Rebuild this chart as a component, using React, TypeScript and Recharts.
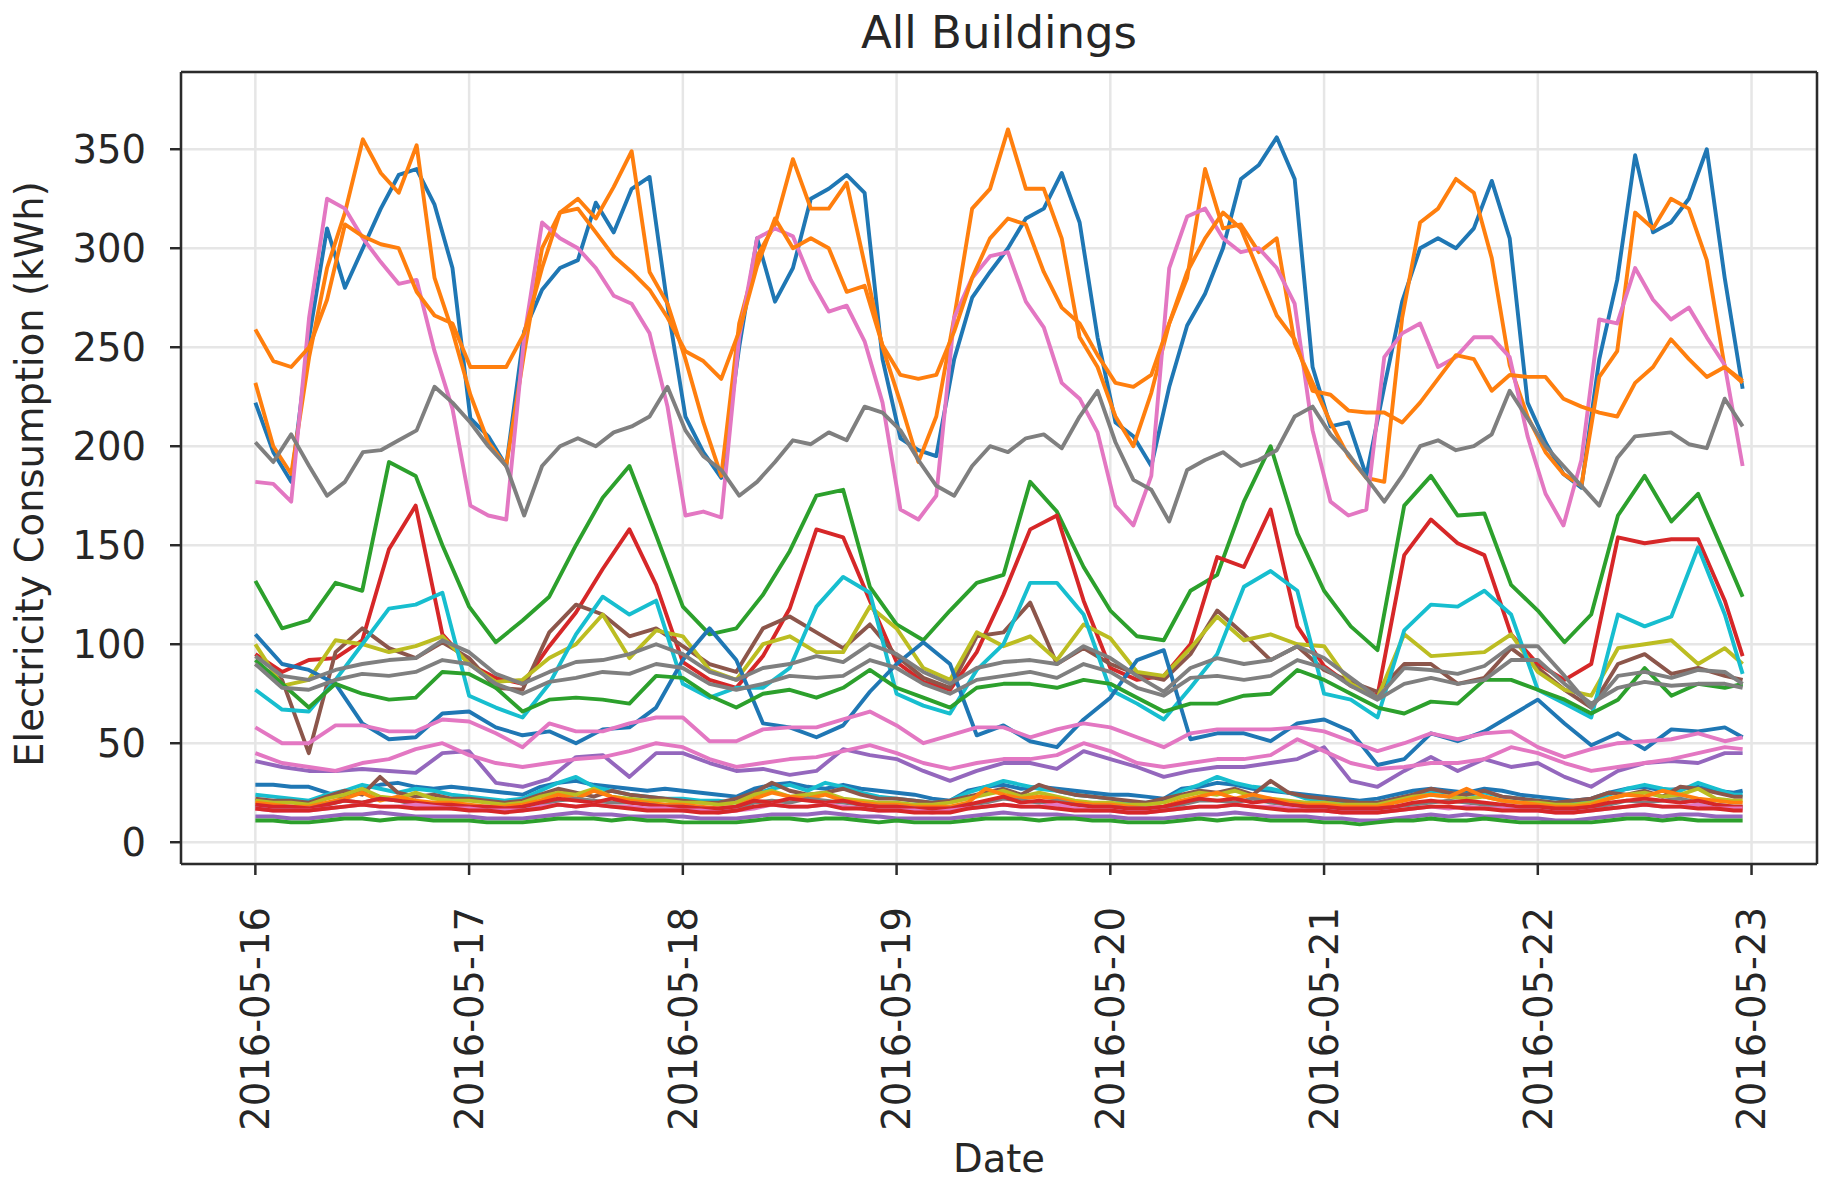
import React from 'react';
import { LineChart, Line, XAxis, YAxis, CartesianGrid, ReferenceLine } from 'recharts';

// ---------- axis categories / ticks ----------
const dayLabels = ['2016-05-16', '2016-05-17', '2016-05-18', '2016-05-19', '2016-05-20', '2016-05-21', '2016-05-22', '2016-05-23'];
const dayTicks = [0, 24, 48, 72, 96, 120, 144, 168];
const yTicks = [0, 50, 100, 150, 200, 250, 300, 350];

// ---------- large buildings (≈2 h resolution, 84 readings spanning 0..167 h) ----------
const blueTop = [222,197,182,255,310,280,300,320,337,340,322,290,
 214,205,190,258,279,290,294,323,308,330,336,271,
 215,197,184,250,305,273,290,325,330,337,328,244,
 204,198,195,244,275,288,300,315,320,338,313,255,
 212,205,190,230,261,277,300,335,342,356,335,240,
 210,212,185,230,273,300,305,300,310,334,305,222,
 202,186,179,244,284,347,308,313,325,350,285,229];
const orangeTop = [232,200,186,245,290,318,355,338,328,352,285,258,
 226,202,190,247,300,318,325,315,331,349,288,272,
 244,212,185,262,296,312,345,320,320,333,292,250,
 222,192,215,265,320,330,360,330,330,305,255,240,
 215,200,227,262,285,340,310,312,298,305,252,232,
 212,195,184,182,265,313,320,335,328,295,241,215,
 197,186,180,235,248,318,310,325,320,294,240,233];
const orangeHigh = [259,243,240,250,274,312,306,302,300,278,266,262,
 240,240,240,257,290,318,320,308,296,288,279,265,
 248,243,234,258,291,315,300,305,300,278,281,251,
 236,234,236,258,285,305,315,312,288,270,262,246,
 232,230,236,262,288,305,318,310,288,266,254,228,
 226,218,217,217,212,222,234,246,244,228,236,235,
 235,224,220,217,215,232,240,254,244,235,240,232];
const pinkTop = [182,181,172,265,325,320,305,293,282,284,248,219,
 170,165,163,255,313,305,300,290,276,272,257,220,
 165,167,164,255,305,310,306,284,268,271,253,222,
 168,163,175,265,285,296,298,273,260,232,224,207,
 170,160,185,290,316,320,305,298,300,290,272,208,
 172,165,168,245,257,262,240,245,255,255,245,205,
 176,160,193,264,262,290,274,264,270,255,241,190];
const grayTop = [202,192,206,190,175,182,197,198,203,208,230,222,
 212,200,190,165,190,200,204,200,207,210,215,230,
 208,195,188,175,182,192,203,201,207,203,220,217,
 208,193,180,175,190,200,197,204,206,199,215,228,
 202,183,178,162,188,193,197,190,193,198,215,220,
 206,196,184,172,185,200,203,198,200,206,228,214,
 200,190,180,170,194,205,206,207,201,199,224,210];

// ---------- medium buildings (3 h resolution: 0,3,...,165 then 167) ----------
const greenMid = [132,108,112,131,127,192,185,150, 119,101,112,124,150,174,190,155, 119,105,108,125,147,175,178,129, 110,102,117,131,135,182,167,139, 117,104,102,127,135,172,200,156, 127,109,97,170,185,165,166,130, 117,101,115,165,185,162,176,145,124];
const redMid = [95,86,92,93,102,148,170,105, 90,83,80,99,116,138,158,130, 91,82,78,94,118,158,154,122, 91,81,77,96,125,158,165,122, 88,82,84,100,144,139,168,109, 89,79,74,145,163,151,145,105, 90,82,90,154,151,153,153,122,94];
const cyanMid = [77,67,66,82,100,118,120,126, 74,68,63,80,105,124,115,122, 80,73,78,78,88,119,134,126, 75,69,65,87,100,131,131,115, 77,70,62,78,95,129,137,127, 75,72,63,107,120,119,127,115, 77,70,63,115,109,114,149,115,85];
const oliveMid = [100,79,82,102,100,96,99,104, 90,81,82,93,100,115,93,107, 104,87,82,100,104,96,96,119, 108,88,82,106,99,104,92,110, 103,86,84,98,114,102,105,100, 99,80,73,105,94,95,96,105, 86,77,74,98,100,102,90,98,90];
const brownMid = [90,82,45,96,108,98,93,101, 93,78,77,106,120,115,104,108, 99,90,86,108,114,106,98,110, 94,83,78,104,106,121,90,98, 90,85,82,95,117,105,92,99, 87,81,76,90,90,80,83,98, 88,77,68,90,95,85,88,84,82];
const grayMidA = [94,84,82,87,90,92,93,102, 96,85,80,86,91,92,95,100, 95,86,82,88,90,94,91,100, 95,86,80,88,91,92,90,99, 93,84,76,88,93,90,92,99, 93,83,73,88,87,85,89,99, 99,84,68,84,86,83,87,86,80];
const grayMidB = [90,78,77,82,85,84,86,92, 90,80,75,81,83,86,85,90, 88,80,77,80,84,83,84,92, 88,80,75,82,84,86,83,90, 86,78,74,83,84,82,84,92, 88,79,72,80,83,80,82,92, 92,80,70,78,81,79,80,80,78];
const greenLow = [92,80,68,80,75,72,73,86, 85,78,66,72,73,72,70,84, 83,74,68,75,77,73,78,87, 78,73,68,78,80,80,78,82, 80,73,66,70,70,74,75,87, 82,75,68,65,71,70,82,82, 77,72,65,72,88,74,80,78,80];
const blueMid = [105,90,87,80,60,52,53,65, 66,58,54,56,50,57,58,68, 92,108,92,60,58,53,59,76, 90,101,90,54,59,51,48,62, 73,92,97,52,55,55,51,60, 62,56,39,42,55,51,56,64, 72,60,49,55,47,57,56,58,53];
const pinkMid = [58,50,50,59,59,56,56,62, 61,55,48,60,56,56,60,63, 63,51,51,57,58,58,62,66, 59,50,54,58,58,53,57,60, 58,53,48,55,57,57,57,58, 56,51,46,50,55,52,55,56, 48,43,47,50,51,52,55,51,53];
const pinkLow = [45,40,38,36,40,42,47,50, 44,40,38,40,42,43,46,50, 48,42,38,40,42,43,46,49, 45,40,37,40,42,42,44,50, 46,40,38,40,42,42,44,52, 46,40,37,38,40,40,42,48, 45,40,36,38,40,42,45,48,47];
const purpleMid = [41,38,36,36,37,36,35,45, 46,30,28,32,43,44,33,45, 45,40,36,37,34,36,47,44, 42,36,31,36,40,40,37,46, 42,38,33,36,38,38,40,42, 48,31,28,36,43,36,42,38, 40,33,28,36,40,41,40,45,45];

// ---------- small buildings (2 h resolution: 0,2,...,166 then 167) ----------
const blueSmall = [29,29,28,28,25,22,27,29,30,28,27,28, 27,26,25,24,28,30,31,29,28,27,26,27, 26,25,24,23,27,29,30,28,27,29,27,26, 25,24,22,21,26,28,29,27,28,27,26,25, 24,24,23,22,27,28,30,29,27,26,25,24, 23,22,21,22,24,26,27,26,25,27,26,24, 23,22,21,22,25,27,28,26,27,28,26,25,26];
const cyanSmall = [24,23,22,21,24,26,29,27,25,27,26,24, 23,22,21,22,26,30,33,28,26,24,23,22, 22,21,21,20,24,27,29,26,30,28,25,23, 22,21,20,21,25,28,31,29,27,26,24,23, 22,20,20,21,26,29,33,30,28,27,25,22, 21,20,20,20,22,24,26,25,24,25,23,22, 21,20,20,21,24,27,29,27,26,30,27,24,24];
const brownSmall = [22,21,21,20,23,26,24,33,25,23,24,22, 22,21,20,21,24,27,25,23,26,24,23,22, 21,20,20,22,25,30,26,24,25,27,24,22, 22,21,20,21,23,25,27,24,29,26,24,23, 22,21,20,22,24,26,25,27,24,31,25,23, 22,21,20,20,22,24,27,25,24,26,23,22, 21,20,21,22,25,24,26,23,28,27,25,23,23];
const orangeSmall = [20,19,18,18,20,22,25,21,23,21,20,20, 19,18,18,19,21,24,22,26,23,21,20,19, 19,18,17,18,22,25,23,22,24,21,20,19, 19,18,18,18,20,27,24,22,23,22,20,19, 19,18,17,18,21,23,25,22,24,22,20,19, 19,18,18,18,20,22,24,23,27,23,21,20, 19,18,18,19,22,24,23,26,24,22,21,20,20];
const redSmallA = [17,16,16,16,17,18,19,18,18,17,17,17, 16,16,15,16,17,19,18,19,18,17,16,16, 16,15,15,16,18,19,18,18,19,17,17,16, 16,15,15,15,17,18,19,18,18,17,16,16, 16,15,15,16,17,18,18,19,18,17,16,16, 16,15,15,15,16,17,18,18,17,17,16,16, 16,15,15,16,17,18,19,18,18,17,17,16,16];
const redSmallB = [19,18,18,17,19,21,20,22,21,20,19,19, 18,18,17,18,20,22,21,20,22,20,19,18, 18,17,17,18,21,20,22,21,20,21,19,18, 18,17,17,17,19,21,23,20,21,20,19,18, 18,17,17,18,20,22,21,22,20,21,19,18, 18,17,17,17,18,20,21,20,21,20,19,18, 18,17,17,18,20,21,22,21,20,21,19,18,18];
const oliveSmall = [21,20,20,19,22,24,27,23,22,25,22,21, 21,20,19,20,23,25,24,27,23,22,21,21, 20,20,19,20,24,26,23,24,25,22,21,20, 20,19,19,20,22,24,26,23,25,23,21,20, 20,19,19,20,23,25,24,26,23,22,21,20, 20,19,19,19,21,23,24,23,22,23,21,20, 20,19,19,20,22,24,25,23,24,27,22,21,21];
const pinkSmall = [17,16,16,16,17,18,19,18,18,19,18,17, 17,16,16,16,18,19,18,19,18,18,17,17, 16,16,15,16,17,19,18,18,19,18,17,16, 16,16,15,16,17,18,19,18,18,19,17,16, 16,15,15,16,17,18,18,19,18,18,17,16, 16,15,15,15,16,17,18,17,18,17,17,16, 16,15,15,16,17,18,19,18,18,19,17,17,17];
const purpleSmall = [13,13,12,12,13,14,14,15,14,13,13,13, 13,12,12,12,13,14,15,14,14,13,13,13, 13,12,12,12,13,14,14,14,15,14,13,13, 12,12,12,12,13,14,15,14,14,14,13,13, 13,12,12,12,13,14,14,15,14,13,13,13, 12,12,11,11,12,13,14,13,14,13,13,12, 12,11,11,12,13,14,14,13,14,14,13,13,13];
const greenSmall = [11,11,10,10,11,12,12,11,12,12,11,11, 11,10,10,10,11,12,12,12,11,12,11,11, 10,10,10,10,11,12,12,11,12,12,11,10, 11,10,10,10,11,12,12,12,11,12,12,11, 11,10,10,10,11,12,11,12,12,11,11,11, 10,10,9,10,11,11,12,11,11,12,11,10, 10,10,10,10,11,12,12,11,12,11,11,11,11];
const graySmall = [18,17,17,17,19,21,20,22,21,19,19,18, 18,17,17,17,19,21,22,21,20,20,19,18, 18,17,16,17,20,21,20,22,21,20,19,18, 18,17,16,17,19,20,22,21,20,21,19,18, 18,17,17,17,19,21,21,20,22,20,19,18, 17,16,16,16,18,19,20,21,20,19,18,17, 17,16,16,17,19,21,20,21,22,20,19,18,18];

// ---------- build point lists (time in hours since 2016-05-16 00:00) ----------
const LAST_HOUR = 167;
function toPoints(values: number[], step: number) {
  return values.map((v, i) => ({ t: i === values.length - 1 ? LAST_HOUR : i * step, v }));
}
const TOP_STEP = LAST_HOUR / 83;

const C = {
  blue: '#1f77b4', orange: '#ff7f0e', green: '#2ca02c', red: '#d62728', purple: '#9467bd',
  brown: '#8c564b', pink: '#e377c2', gray: '#7f7f7f', olive: '#bcbd22', cyan: '#17becf',
};

const series = [
  { key: 'blueSmall', vals: blueSmall, step: 2, color: C.blue },
  { key: 'cyanSmall', vals: cyanSmall, step: 2, color: C.cyan },
  { key: 'brownSmall', vals: brownSmall, step: 2, color: C.brown },
  { key: 'oliveSmall', vals: oliveSmall, step: 2, color: C.olive },
  { key: 'orangeSmall', vals: orangeSmall, step: 2, color: C.orange },
  { key: 'graySmall', vals: graySmall, step: 2, color: C.gray },
  { key: 'redSmallB', vals: redSmallB, step: 2, color: C.red },
  { key: 'pinkSmall', vals: pinkSmall, step: 2, color: C.pink },
  { key: 'redSmallA', vals: redSmallA, step: 2, color: C.red },
  { key: 'purpleSmall', vals: purpleSmall, step: 2, color: C.purple },
  { key: 'greenSmall', vals: greenSmall, step: 2, color: C.green },
  { key: 'blueTop', vals: blueTop, step: TOP_STEP, color: C.blue },
  { key: 'orangeTop', vals: orangeTop, step: TOP_STEP, color: C.orange },
  { key: 'greenMid', vals: greenMid, step: 3, color: C.green },
  { key: 'redMid', vals: redMid, step: 3, color: C.red },
  { key: 'purpleMid', vals: purpleMid, step: 3, color: C.purple },
  { key: 'brownMid', vals: brownMid, step: 3, color: C.brown },
  { key: 'pinkTop', vals: pinkTop, step: TOP_STEP, color: C.pink },
  { key: 'grayTop', vals: grayTop, step: TOP_STEP, color: C.gray },
  { key: 'oliveMid', vals: oliveMid, step: 3, color: C.olive },
  { key: 'cyanMid', vals: cyanMid, step: 3, color: C.cyan },
  { key: 'blueMid', vals: blueMid, step: 3, color: C.blue },
  { key: 'orangeHigh', vals: orangeHigh, step: TOP_STEP, color: C.orange },
  { key: 'greenLow', vals: greenLow, step: 3, color: C.green },
  { key: 'pinkLow', vals: pinkLow, step: 3, color: C.pink },
  { key: 'pinkMid', vals: pinkMid, step: 3, color: C.pink },
  { key: 'grayMidA', vals: grayMidA, step: 3, color: C.gray },
  { key: 'grayMidB', vals: grayMidB, step: 3, color: C.gray },
];

const FONT = 'DejaVu Sans, Verdana, sans-serif';
const TEXT = '#262626';
const SPINE = '#2b2b2b';

function XTick(props: any) {
  const { x, y, payload } = props;
  const label = dayLabels[Math.round(payload.value / 24)];
  return (
    <text x={x} y={y} transform={`rotate(-90 ${x} ${y})`} textAnchor="end" dy="0.36em"
      fontSize={38.5} fontFamily={FONT} fill={TEXT}>{label}</text>
  );
}

export default function App() {
  return (
    <div style={{ position: 'absolute', left: 0, top: 0, width: 1836, height: 1188, background: '#fff', fontFamily: FONT }}>
      <LineChart width={1836} height={1188} margin={{ top: 72, right: 19, bottom: 24, left: 0 }}>
        <CartesianGrid stroke="#e6e6e6" strokeWidth={2.5} />
        <XAxis type="number" dataKey="t" domain={[-8.35, 175.35]} ticks={dayTicks} interval={0}
          allowDataOverflow height={300} tick={<XTick />} tickSize={11} tickMargin={32}
          axisLine={{ stroke: SPINE, strokeWidth: 2.5 }} tickLine={{ stroke: SPINE, strokeWidth: 2.5 }} />
        <YAxis type="number" domain={[-11, 389]} ticks={yTicks} interval={0} allowDataOverflow width={181}
          tickSize={11} tickMargin={24}
          tick={{ fontSize: 38.5, fill: TEXT, fontFamily: FONT }}
          axisLine={{ stroke: SPINE, strokeWidth: 2.5 }} tickLine={{ stroke: SPINE, strokeWidth: 2.5 }} />
        {series.map((s) => (
          <Line key={s.key} data={toPoints(s.vals, s.step)} dataKey="v" type="linear" stroke={s.color}
            strokeWidth={3.9} strokeLinejoin="round" dot={false} activeDot={false} isAnimationActive={false} />
        ))}
        <ReferenceLine y={389} stroke={SPINE} strokeWidth={2.5} />
        <ReferenceLine x={175.35} stroke={SPINE} strokeWidth={2.5} />
      </LineChart>
      <div style={{ position: 'absolute', left: 999, top: 10, transform: 'translateX(-50%)', fontSize: 45, lineHeight: 1, color: TEXT, whiteSpace: 'nowrap' }}>All Buildings</div>
      <div style={{ position: 'absolute', left: 999, top: 1140, transform: 'translateX(-50%)', fontSize: 38.5, lineHeight: 1, color: TEXT, whiteSpace: 'nowrap' }}>Date</div>
      <div style={{ position: 'absolute', left: 30, top: 474, transform: 'translate(-50%, -50%) rotate(-90deg)', fontSize: 38.5, lineHeight: 1, color: TEXT, whiteSpace: 'nowrap' }}>Electricity Consumption (kWh)</div>
    </div>
  );
}
